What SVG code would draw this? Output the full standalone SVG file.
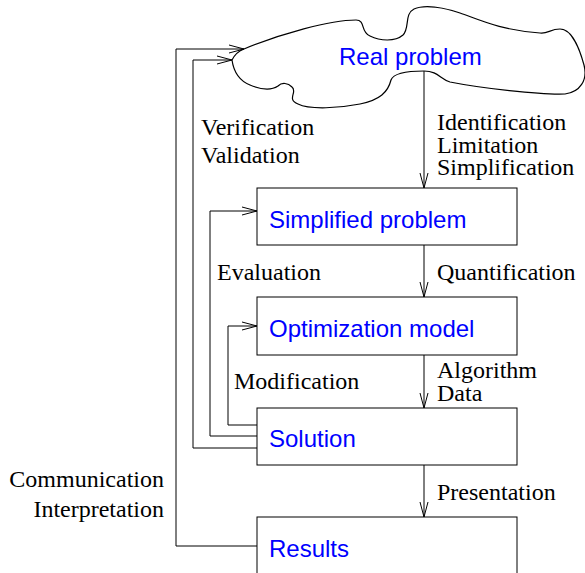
<svg xmlns="http://www.w3.org/2000/svg" width="585" height="573" viewBox="0 0 585 573">
<style>
.box{fill:#fff;stroke:#000;stroke-width:1}
.cloud{fill:#fff;stroke:#000;stroke-width:1.2}
.lbl{font-family:"Liberation Sans",Arial,sans-serif;font-size:24px;fill:#0000ff}
.t{font-family:"Liberation Serif","Times New Roman",serif;font-size:24px;fill:#000}
.c{fill:none;stroke:#000;stroke-width:1}
</style>
<defs>
<marker id="ah" markerUnits="userSpaceOnUse" viewBox="-16 -5 17 10" refX="0" refY="0" markerWidth="17" markerHeight="10" orient="auto" overflow="visible">
<path d="M-15,-4 L0,0 L-15,4" fill="none" stroke="#000" stroke-width="1"/>
</marker>
</defs>
<g id="real">
<path class="cloud" d="M232,60 Q236,52 244,49 C280,34 330,20 356,20 C366,20 360,32 370,36 C380,41 395,42 403,35 C410,28 404,14 414,9 C425,4 445,8 460,13 C480,20 500,30 540,33 C548,34 550,29 560,29 C572,29 580,50 584,65 C588,80 580,92 565,94 C540,95 480,88 450,82 C440,79 438,71 424,71 C410,71 394,72 391,80 C388,92 380,100 360,104 C340,108 310,110 298,104 C286,99 298,92 292,87 C288,83 282,82 278,86 C272,90 262,90 250,85 C240,81 234,74 232,60 Z"/>
<text class="lbl" x="339" y="65">Real problem</text>
</g>
<g id="simplified">
<rect class="box" x="257" y="188" width="260" height="57"/>
<text class="lbl" x="269" y="228">Simplified problem</text>
</g>
<g id="optimization">
<rect class="box" x="257" y="297" width="260" height="58"/>
<text class="lbl" x="269" y="337">Optimization model</text>
</g>
<g id="solution">
<rect class="box" x="257" y="408" width="260" height="57"/>
<text class="lbl" x="269" y="447">Solution</text>
</g>
<g id="results">
<rect class="box" x="257" y="517" width="260" height="60"/>
<text class="lbl" x="269" y="557">Results</text>
</g>
<g id="connectors">
<path class="c" d="M424,71 V188" marker-end="url(#ah)"/>
<path class="c" d="M424,245 V297" marker-end="url(#ah)"/>
<path class="c" d="M424,355 V408" marker-end="url(#ah)"/>
<path class="c" d="M424,465 V517" marker-end="url(#ah)"/>
<path class="c" d="M257,425 H228 V326 H257" marker-end="url(#ah)"/>
<path class="c" d="M257,436 H210 V211 H257" marker-end="url(#ah)"/>
<path class="c" d="M257,448 H193 V60 H232" marker-end="url(#ah)"/>
<path class="c" d="M257,546 H176 V49 H244" marker-end="url(#ah)"/>
</g>
<g id="labels">
<text class="t" x="437" y="130">Identification</text>
<text class="t" x="437" y="153">Limitation</text>
<text class="t" x="437" y="175">Simplification</text>
<text class="t" x="201" y="135">Verification</text>
<text class="t" x="201" y="163">Validation</text>
<text class="t" x="217" y="280">Evaluation</text>
<text class="t" x="437" y="280">Quantification</text>
<text class="t" x="234" y="389">Modification</text>
<text class="t" x="437" y="378">Algorithm</text>
<text class="t" x="437" y="401">Data</text>
<text class="t" x="164" y="487" text-anchor="end">Communication</text>
<text class="t" x="164" y="517" text-anchor="end">Interpretation</text>
<text class="t" x="437" y="500">Presentation</text>
</g>
</svg>
